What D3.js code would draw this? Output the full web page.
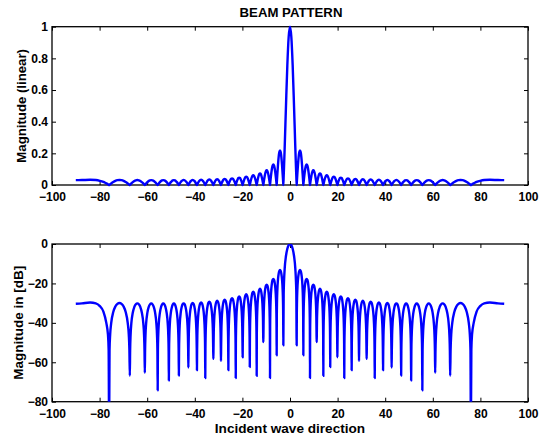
<!DOCTYPE html>
<html>
<head>
<meta charset="utf-8">
<script src="https://cdn.jsdelivr.net/npm/d3@7"></script>
<style>
  body { margin: 0; background: #fff; }
  text { font-family: Arial, "Liberation Sans", sans-serif; font-weight: bold; }
</style>
</head>
<body>
<div id="chart"></div>
<script>
// null positions on the positive side (deg); the pattern is symmetric about 0
const nullAngles = [2.8, 5.6, 8.4, 11.2, 14.0, 16.9, 19.9, 22.8, 25.9, 29.0,
                    32.2, 35.6, 39.1, 42.7, 46.7, 50.9, 55.6, 61.0, 67.3, 76.0];
// how deep each null is drawn in dB (sampled curve, so finite)
const nullDepthDb = [-51.4, -56.4, -68, -49.8, -66.9, -62.4, -57.5, -68, -64, -59.3,
                     -58.3, -68, -64, -62.7, -66.7, -69.2, -74.2, -65.4, -66.8, -95];
// side lobe peaks (dB) between successive nulls
const sidelobeDb = [-13.2, -17.7, -20.6, -22.7, -24.2, -25.5, -26.6, -27.5, -28.2, -28.8,
                    -29.3, -29.6, -29.9, -30.1, -30.2, -30.2, -30.2, -30.1, -29.9];
// main lobe shape: position between centre (0) and first null (1), level relative to peak
const mainPos = [0, 0.2, 0.4, 0.6, 0.8, 0.9, 0.95];
const mainRel = [1, 0.935, 0.757, 0.504, 0.234, 0.109, 0.053];
// side lobe shape: position across the lobe (0..1), level relative to its peak
const lobePos = [0.02, 0.05, 0.1, 0.2, 0.3, 0.4, 0.5, 0.6, 0.7, 0.8, 0.9, 0.95, 0.98];
const lobeRel = [0.063, 0.156, 0.309, 0.588, 0.809, 0.951, 1, 0.951, 0.809, 0.588, 0.309, 0.156, 0.063];
// last lobe running out to endfire
const endAngles = [76.2, 76.5, 77.2, 78.4, 79.9, 81.6, 84.0, 87.4, 90.0];
const endDb = [-53.7, -45.8, -39.9, -34.3, -31.5, -30.1, -29.7, -30.1, -30.3];

const xTicks = [-100, -80, -60, -40, -20, 0, 20, 40, 60, 80, 100];
const linTicks = [0, 0.2, 0.4, 0.6, 0.8, 1];
const dbTicks = [-80, -60, -40, -20, 0];

const toLin = db => Math.pow(10, db / 20);
const toDb = r => 20 * Math.log10(r);

// positive half of the pattern
const half = [];
mainPos.forEach((t, i) => half.push({a: t * nullAngles[0], db: toDb(mainRel[i]), lin: mainRel[i]}));
nullAngles.forEach((n, k) => {
  half.push({a: n, db: nullDepthDb[k], lin: 0});
  if (k < sidelobeDb.length) {
    const next = nullAngles[k + 1];
    lobePos.forEach((f, j) => {
      const db = sidelobeDb[k] + toDb(lobeRel[j]);
      half.push({a: n + f * (next - n), db: db, lin: toLin(db)});
    });
  }
});
endAngles.forEach((a, i) => half.push({a: a, db: endDb[i], lin: toLin(endDb[i])}));

const pattern = half.slice(1).map(d => ({...d, a: -d.a})).reverse().concat(half);

const width = 547, height = 444;
const svg = d3.select("#chart").append("svg").attr("width", width).attr("height", height);

const x = d3.scaleLinear().domain([-100, 100]).range([52, 528]);
const yLin = d3.scaleLinear().domain([0, 1]).range([185, 26.7]);
const yDb = d3.scaleLinear().domain([-80, 0]).range([401.7, 244]);

svg.append("defs").append("clipPath").attr("id", "clipDb")
  .append("rect")
  .attr("x", x(-100)).attr("y", yDb(0))
  .attr("width", x(100) - x(-100)).attr("height", yDb(-80) - yDb(0));

const minus = s => String(s).replace("-", "\u2212");

function drawAxes(y, yTicks, fmt) {
  const g = svg.append("g");
  const top = y.range()[1], bottom = y.range()[0];

  g.append("g").attr("transform", `translate(0,${bottom})`)
    .call(d3.axisBottom(x).tickValues(xTicks).tickSizeInner(-4).tickSizeOuter(0).tickPadding(7.5)
      .tickFormat(d => minus(d)));
  g.append("g").attr("transform", `translate(0,${top})`)
    .call(d3.axisTop(x).tickValues(xTicks).tickSizeInner(-4).tickSizeOuter(0).tickFormat(""));
  g.append("g").attr("transform", `translate(${x(-100)},0)`)
    .call(d3.axisLeft(y).tickValues(yTicks).tickSizeInner(-4).tickSizeOuter(0).tickPadding(4)
      .tickFormat(fmt));
  g.append("g").attr("transform", `translate(${x(100)},0)`)
    .call(d3.axisRight(y).tickValues(yTicks).tickSizeInner(-4).tickSizeOuter(0).tickFormat(""));

  g.selectAll(".domain").remove();
  g.selectAll(".tick line").attr("stroke", "#000").attr("stroke-width", 1);
  g.selectAll(".tick text").attr("fill", "#000").style("font-size", "12px")
    .style("font-family", "Arial, 'Liberation Sans', sans-serif").style("font-weight", "bold");

  g.append("rect")
    .attr("x", x(-100)).attr("y", top)
    .attr("width", x(100) - x(-100)).attr("height", bottom - top)
    .attr("fill", "none").attr("stroke", "#000").attr("stroke-width", 1.3);
}

drawAxes(yLin, linTicks, d => d === 0 || d === 1 ? String(d) : d3.format(".1f")(d));
drawAxes(yDb, dbTicks, d => minus(d));

svg.append("path")
  .datum(pattern)
  .attr("fill", "none")
  .attr("stroke", "#0000ff")
  .attr("stroke-width", 2.4)
  .attr("stroke-linejoin", "round")
  .attr("d", d3.line().x(d => x(d.a)).y(d => yLin(d.lin)).curve(d3.curveMonotoneX));

svg.append("path")
  .datum(pattern)
  .attr("clip-path", "url(#clipDb)")
  .attr("fill", "none")
  .attr("stroke", "#0000ff")
  .attr("stroke-width", 2.4)
  .attr("stroke-linejoin", "round")
  .attr("d", d3.line().x(d => x(d.a)).y(d => yDb(d.db)).curve(d3.curveMonotoneX));

// titles and labels
svg.append("text").attr("x", 291).attr("y", 16.7).attr("text-anchor", "middle")
  .style("font-size", "13.2px").text("BEAM PATTERN");
svg.append("text").attr("transform", `translate(26,${(yLin(0) + yLin(1)) / 2}) rotate(-90)`)
  .attr("text-anchor", "middle").style("font-size", "13.2px").text("Magnitude (linear)");
svg.append("text").attr("transform", `translate(22.8,${(yDb(0) + yDb(-80)) / 2}) rotate(-90)`)
  .attr("text-anchor", "middle").style("font-size", "13.5px").text("Magnitude in [dB]");
svg.append("text").attr("x", 290).attr("y", 432.5).attr("text-anchor", "middle")
  .style("font-size", "13.6px").text("Incident wave direction");
</script>
</body>
</html>
